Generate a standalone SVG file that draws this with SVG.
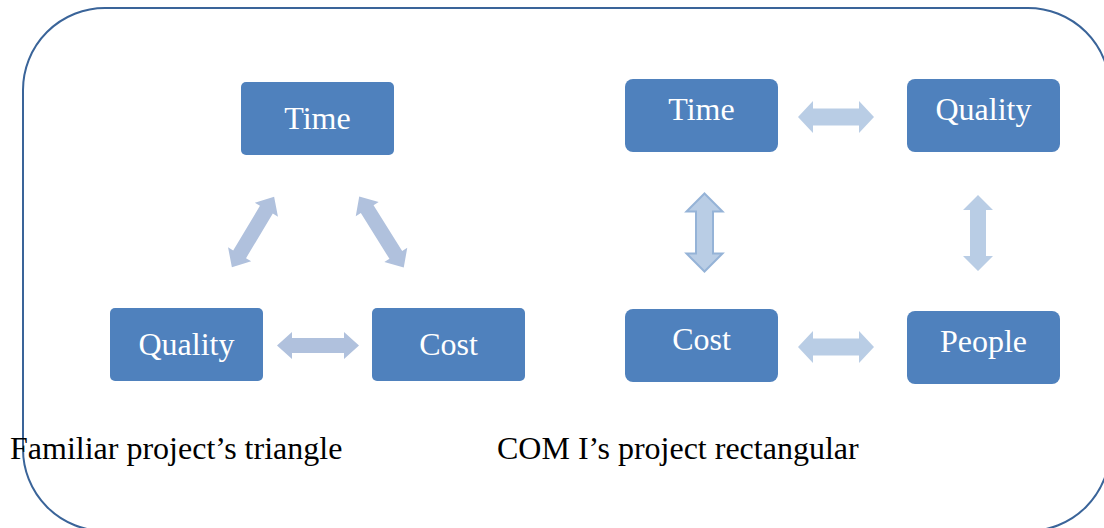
<svg xmlns="http://www.w3.org/2000/svg" width="1104" height="528" viewBox="0 0 1104 528">
<style>
.box{fill:#4f81bd}
.bt{fill:#ffffff;font-family:"Liberation Serif","Times New Roman",serif;font-size:32px;text-anchor:middle}
.cap{fill:#000000;font-family:"Liberation Serif","Times New Roman",serif;font-size:32px}
.a1{fill:#b0c1dd}
.a2{fill:#b9cde5}
.a3{fill:#b9cde5;stroke:#95b3d7;stroke-width:2}
</style>
<rect x="23" y="8" width="1087" height="523" rx="82" ry="82" fill="none" stroke="#3a6499" stroke-width="2"/>
<g id="connectors">
<path class="a1" transform="translate(253,232) rotate(-59)" d="M-41,0 L-26,-13.5 L-26,-7.5 L26,-7.5 L26,-13.5 L41,0 L26,13.5 L26,7.5 L-26,7.5 L-26,13.5 Z"/>
<path class="a1" transform="translate(381.5,232) rotate(58)" d="M-42,0 L-27,-13.5 L-27,-7.5 L27,-7.5 L27,-13.5 L42,0 L27,13.5 L27,7.5 L-27,7.5 L-27,13.5 Z"/>
<path class="a1" transform="translate(318,345.5)" d="M-41,0 L-26,-13.5 L-26,-7.5 L26,-7.5 L26,-13.5 L41,0 L26,13.5 L26,7.5 L-26,7.5 L-26,13.5 Z"/>
<path class="a2" transform="translate(836,117)" d="M-38,0 L-23,-16 L-23,-8.5 L23,-8.5 L23,-16 L38,0 L23,16 L23,8.5 L-23,8.5 L-23,16 Z"/>
<path class="a2" transform="translate(836,347)" d="M-38,0 L-23,-16 L-23,-8.5 L23,-8.5 L23,-16 L38,0 L23,16 L23,8.5 L-23,8.5 L-23,16 Z"/>
<path class="a3" transform="translate(704.5,232.5)" d="M0,-39 L18,-21 L8.5,-21 L8.5,21 L18,21 L0,39 L-18,21 L-8.5,21 L-8.5,-21 L-18,-21 Z"/>
<path class="a2" transform="translate(978,233)" d="M0,-38 L15,-23 L8,-23 L8,23 L15,23 L0,38 L-15,23 L-8,23 L-8,-23 L-15,-23 Z"/>
</g>
<g id="l-time"><rect class="box" x="241" y="82" width="153" height="73" rx="5"/><text class="bt" x="317.5" y="129">Time</text></g>
<g id="l-quality"><rect class="box" x="110" y="308" width="153" height="73" rx="5"/><text class="bt" x="186.5" y="355">Quality</text></g>
<g id="l-cost"><rect class="box" x="372" y="308" width="153" height="73" rx="5"/><text class="bt" x="448.5" y="355">Cost</text></g>
<g id="r-time"><rect class="box" x="625" y="79" width="153" height="73" rx="8"/><text class="bt" x="701.5" y="120">Time</text></g>
<g id="r-quality"><rect class="box" x="907" y="79" width="153" height="73" rx="8"/><text class="bt" x="983.5" y="120">Quality</text></g>
<g id="r-cost"><rect class="box" x="625" y="309" width="153" height="73" rx="8"/><text class="bt" x="701.5" y="350">Cost</text></g>
<g id="r-people"><rect class="box" x="907" y="311" width="153" height="73" rx="8"/><text class="bt" x="983.5" y="352">People</text></g>
<text class="cap" x="10" y="459">Familiar project’s triangle</text>
<text class="cap" x="497" y="459">COM I’s project rectangular</text>
</svg>
